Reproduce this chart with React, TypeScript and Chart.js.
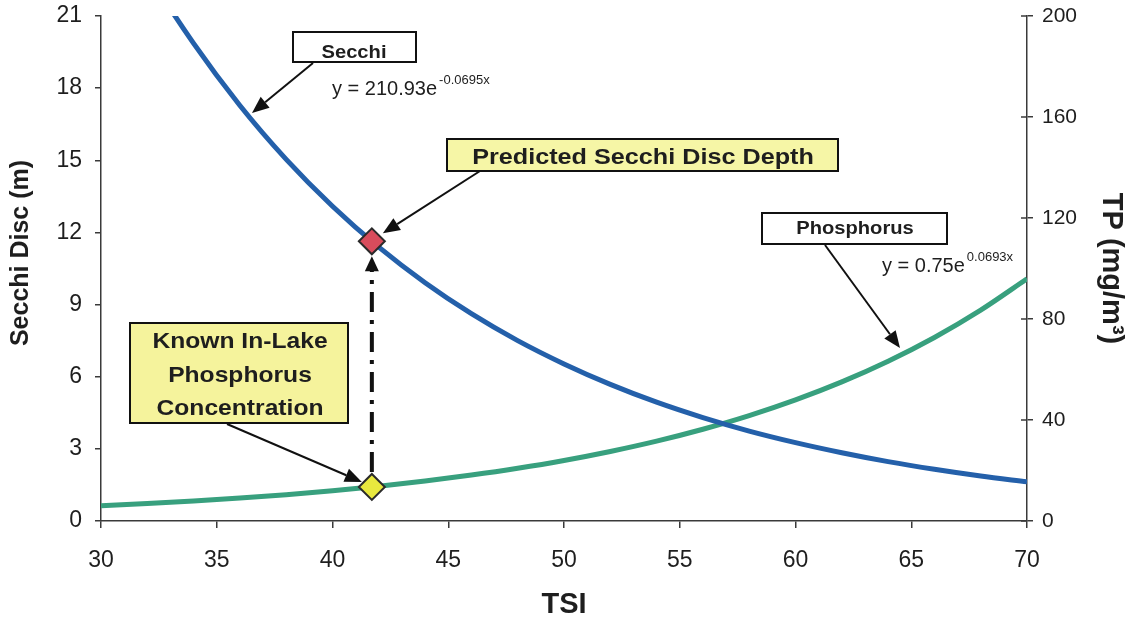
import React, { useEffect, useRef } from 'react';
import { Chart, registerables } from 'chart.js';

Chart.register(...registerables);

const FONT = "'Liberation Sans', Arial, Helvetica, sans-serif";

// Trophic State Index (x axis)
const tsi = [30, 32, 34, 36, 38, 40, 42, 44, 46, 48, 50, 52, 54, 56, 58, 60, 62, 64, 66, 68, 70];
// Secchi disc depth (m), left axis
const secchiDepth = [26.22, 22.82, 19.86, 17.28, 15.04, 13.09, 11.39, 9.91, 8.62, 7.5, 6.53, 5.68, 4.94, 4.3, 3.74, 3.26, 2.84, 2.47, 2.15, 1.87, 1.63];
// Total phosphorus (mg/m3), right axis
const totalPhosphorus = [6.0, 6.89, 7.91, 9.09, 10.44, 11.99, 13.78, 15.82, 18.18, 20.88, 23.98, 27.55, 31.64, 36.35, 41.75, 47.96, 55.09, 63.28, 72.69, 83.5, 95.91];

const knownTsi = [41.7];
const knownTP = [13.49];
const predictedSecchi = [11.63];

// Axis tick settings
const xTicks = { min: 30, max: 70, step: 5 };
const leftTicks = { min: 0, max: 21, step: 3 };
const rightTicks = { min: 0, max: 200, step: 40 };

const BLUE = '#2460aa';
const GREEN = '#38a07e';
const AXIS = '#3a3a3a';
const TEXT = '#1e1e1e';

function drawArrow(ctx: CanvasRenderingContext2D, x1: number, y1: number, x2: number, y2: number, head = 17, half = 7) {
  const a = Math.atan2(y2 - y1, x2 - x1);
  const bx = x2 - head * Math.cos(a);
  const by = y2 - head * Math.sin(a);
  ctx.beginPath();
  ctx.moveTo(x1, y1);
  ctx.lineTo(bx, by);
  ctx.stroke();
  ctx.beginPath();
  ctx.moveTo(x2, y2);
  ctx.lineTo(bx + half * Math.sin(a), by - half * Math.cos(a));
  ctx.lineTo(bx - half * Math.sin(a), by + half * Math.cos(a));
  ctx.closePath();
  ctx.fill();
}

function wideText(ctx: CanvasRenderingContext2D, text: string, cx: number, baseline: number, font: string, sx = 1.12) {
  ctx.save();
  ctx.font = font;
  ctx.textAlign = 'center';
  ctx.textBaseline = 'alphabetic';
  ctx.translate(cx, baseline);
  ctx.scale(sx, 1);
  ctx.fillText(text, 0, 0);
  ctx.restore();
}

function labelBox(ctx: CanvasRenderingContext2D, x: number, y: number, w: number, h: number, fill: string) {
  ctx.save();
  ctx.fillStyle = fill;
  ctx.fillRect(x, y, w, h);
  ctx.strokeStyle = '#111';
  ctx.lineWidth = 2;
  ctx.strokeRect(x, y, w, h);
  ctx.restore();
}

function equation(ctx: CanvasRenderingContext2D, x: number, baseline: number, main: string, sup: string) {
  ctx.save();
  ctx.fillStyle = TEXT;
  ctx.textAlign = 'left';
  ctx.textBaseline = 'alphabetic';
  ctx.font = `20px ${FONT}`;
  ctx.fillText(main, x, baseline);
  const w = ctx.measureText(main).width;
  ctx.font = `13px ${FONT}`;
  ctx.fillText(sup, x + w + 2, baseline - 11);
  ctx.restore();
}

const annotations = {
  id: 'annotations',
  afterDatasetsDraw(chart: any) {
    const { ctx } = chart;
    const xs = chart.scales.x;
    const yl = chart.scales.y;
    const yr = chart.scales.yR;
    const px = xs.getPixelForValue(knownTsi[0]);
    const pyRed = yl.getPixelForValue(predictedSecchi[0]);
    const pyYel = yr.getPixelForValue(knownTP[0]);

    ctx.save();
    // dash-dot link from the known TP point up to the predicted Secchi depth
    ctx.strokeStyle = '#111';
    ctx.fillStyle = '#111';
    ctx.lineWidth = 4;
    ctx.setLineDash([20, 8, 4, 8]);
    ctx.beginPath();
    ctx.moveTo(px, pyYel - 15);
    ctx.lineTo(px, pyRed + 29);
    ctx.stroke();
    ctx.setLineDash([]);
    ctx.beginPath();
    ctx.moveTo(px, pyRed + 15);
    ctx.lineTo(px - 7, pyRed + 30);
    ctx.lineTo(px + 7, pyRed + 30);
    ctx.closePath();
    ctx.fill();

    // callout boxes
    labelBox(ctx, 293, 32, 123, 30, '#ffffff');
    labelBox(ctx, 447, 139, 391, 32, '#f6f6a6');
    labelBox(ctx, 130, 323, 218, 100, '#f5f39c');
    labelBox(ctx, 762, 213, 185, 31, '#ffffff');

    ctx.fillStyle = TEXT;
    wideText(ctx, 'Secchi', 354, 58, `bold 18px ${FONT}`);
    wideText(ctx, 'Predicted Secchi Disc Depth', 643, 164, `bold 22.5px ${FONT}`);
    wideText(ctx, 'Known In-Lake', 240, 348, `bold 22px ${FONT}`);
    wideText(ctx, 'Phosphorus', 240, 382, `bold 22px ${FONT}`);
    wideText(ctx, 'Concentration', 240, 415, `bold 22px ${FONT}`);
    wideText(ctx, 'Phosphorus', 855, 234, `bold 18px ${FONT}`);

    // callout arrows
    ctx.strokeStyle = '#111';
    ctx.fillStyle = '#111';
    ctx.lineWidth = 2;
    drawArrow(ctx, 313, 63, 252, 113);
    drawArrow(ctx, 480, 171, px + 11, pyRed - 8);
    drawArrow(ctx, 227, 424, px - 10, pyYel - 5);
    drawArrow(ctx, 825, 245, 900, 348);

    // fitted equations
    equation(ctx, 332, 95, 'y = 210.93e', '-0.0695x');
    equation(ctx, 882, 272, 'y = 0.75e', '0.0693x');

    // inner tick marks on the TP axis
    ctx.strokeStyle = AXIS;
    ctx.lineWidth = 1.5;
    const rx = yr.left;
    yr.ticks.forEach((t: any) => {
      const y = yr.getPixelForValue(t.value);
      ctx.beginPath();
      ctx.moveTo(rx - 6, y);
      ctx.lineTo(rx, y);
      ctx.stroke();
    });

    // left axis title, set a little above the axis midpoint
    ctx.save();
    ctx.translate(21, 253);
    ctx.rotate(-Math.PI / 2);
    ctx.font = `bold 25px ${FONT}`;
    ctx.fillStyle = TEXT;
    ctx.textAlign = 'center';
    ctx.textBaseline = 'middle';
    ctx.fillText('Secchi Disc (m)', 0, 0);
    ctx.restore();
    ctx.restore();
  },
};

export default function App() {
  const canvasRef = useRef<HTMLCanvasElement | null>(null);

  useEffect(() => {
    if (!canvasRef.current) return;
    const tickFont = (size: number) => ({ family: FONT, size });
    const chart = new Chart(canvasRef.current, {
      type: 'line',
      data: {
        datasets: [
          {
            label: 'Predicted Secchi Disc Depth',
            data: knownTsi.map((t, i) => ({ x: t, y: predictedSecchi[i] })),
            yAxisID: 'y',
            showLine: false,
            pointStyle: 'rectRot',
            pointRadius: 13,
            backgroundColor: '#d84c5c',
            borderColor: '#2a2a2a',
            borderWidth: 2,
            order: 0,
          },
          {
            label: 'Known In-Lake Phosphorus Concentration',
            data: knownTsi.map((t, i) => ({ x: t, y: knownTP[i] })),
            yAxisID: 'yR',
            showLine: false,
            pointStyle: 'rectRot',
            pointRadius: 13,
            backgroundColor: '#e8e83e',
            borderColor: '#2a2a2a',
            borderWidth: 2,
            order: 0,
          },
          {
            label: 'Secchi',
            data: tsi.map((t, i) => ({ x: t, y: secchiDepth[i] })),
            yAxisID: 'y',
            borderColor: BLUE,
            borderWidth: 5,
            pointRadius: 0,
            cubicInterpolationMode: 'monotone',
            fill: false,
            order: 1,
          },
          {
            label: 'Phosphorus',
            data: tsi.map((t, i) => ({ x: t, y: totalPhosphorus[i] })),
            yAxisID: 'yR',
            borderColor: GREEN,
            borderWidth: 5,
            pointRadius: 0,
            cubicInterpolationMode: 'monotone',
            fill: false,
            order: 1,
          },
        ],
      },
      options: {
        responsive: true,
        maintainAspectRatio: false,
        animation: false,
        layout: { padding: { top: 16, left: 0, right: 0, bottom: 0 } },
        plugins: { legend: { display: false }, tooltip: { enabled: false } },
        scales: {
          x: {
            type: 'linear',
            min: xTicks.min,
            max: xTicks.max,
            ticks: { stepSize: xTicks.step, color: TEXT, font: tickFont(23), padding: 19, maxRotation: 0 },
            grid: { drawOnChartArea: false, tickLength: 7, color: AXIS, lineWidth: 1.5 },
            border: { color: AXIS, width: 1.5 },
            title: {
              display: true,
              text: 'TSI',
              color: TEXT,
              font: { family: FONT, size: 29, weight: 'bold' },
              padding: { top: 0, bottom: 2 },
            },
            afterFit(s: any) {
              s.height = 103;
              s.paddingLeft = 0;
              s.paddingRight = 0;
            },
          },
          y: {
            type: 'linear',
            position: 'left',
            min: leftTicks.min,
            max: leftTicks.max,
            ticks: { stepSize: leftTicks.step, color: TEXT, font: tickFont(23), padding: 13 },
            grid: { drawOnChartArea: false, tickLength: 6, color: AXIS, lineWidth: 1.5 },
            border: { color: AXIS, width: 1.5 },
            afterFit(s: any) {
              s.width = 101;
              s.paddingTop = 0;
              s.paddingBottom = 0;
            },
          },
          yR: {
            type: 'linear',
            position: 'right',
            min: rightTicks.min,
            max: rightTicks.max,
            ticks: { stepSize: rightTicks.step, color: TEXT, font: tickFont(21), padding: 9 },
            grid: { drawOnChartArea: false, tickLength: 6, color: AXIS, lineWidth: 1.5 },
            border: { color: AXIS, width: 1.5 },
            title: {
              display: true,
              text: 'TP (mg/m³)',
              color: TEXT,
              font: { family: FONT, size: 29, weight: 'bold' },
              padding: { top: 8, bottom: 0 },
            },
            afterFit(s: any) {
              s.width = 109;
              s.paddingTop = 0;
              s.paddingBottom = 0;
            },
          },
        },
      },
      plugins: [annotations],
    } as any);
    return () => chart.destroy();
  }, []);

  return (
    <div style={{ position: 'fixed', left: 0, top: 0, width: 1136, height: 624, background: '#ffffff' }}>
      <canvas ref={canvasRef} />
    </div>
  );
}
